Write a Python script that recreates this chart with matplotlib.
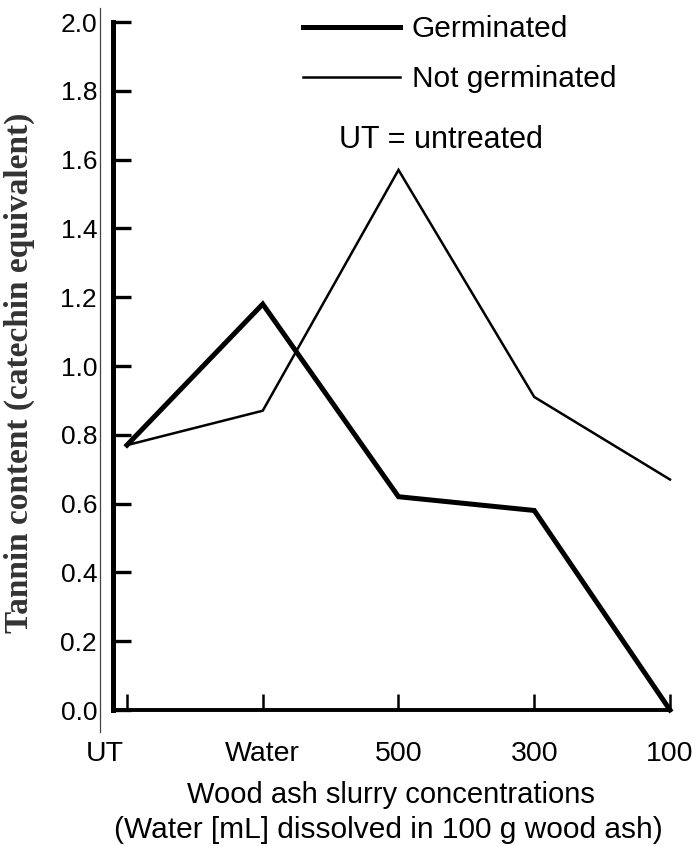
import matplotlib
matplotlib.use('Agg')
import matplotlib.pyplot as plt
from matplotlib.lines import Line2D
from matplotlib.transforms import ScaledTranslation

plt.rcParams['font.family'] = ['Liberation Sans', 'DejaVu Sans']

# ── data ──
categories = ['UT', 'Water', '500', '300', '100']
germinated = [0.77, 1.18, 0.62, 0.58, 0.0]
not_germinated = [0.77, 0.87, 1.57, 0.91, 0.67]
yticks = [0.0, 0.2, 0.4, 0.6, 0.8, 1.0, 1.2, 1.4, 1.6, 1.8, 2.0]

W, H = 693, 846
fig = plt.figure(figsize=(W / 100, H / 100), dpi=100, facecolor='white')
ax = fig.add_axes([113 / W, 1 - 710 / H, (670 - 113) / W, (710 - 22) / H])

x = list(range(len(categories)))
ax.plot(x, germinated, color='black', lw=3.6, solid_joinstyle='miter',
        label='Germinated', clip_on=False, zorder=3)
ax.plot(x, not_germinated, color='black', lw=1.8, solid_joinstyle='miter',
        label='Not germinated', clip_on=False, zorder=3)

ax.set_xlim(-0.103, 4.0)
ax.set_ylim(0, 2.0)
ax.set_xticks(x)
ax.set_xticklabels(categories)
ax.set_yticks(yticks)
ax.set_yticklabels([f'{v:.1f}' for v in yticks])

for s in ('top', 'right'):
    ax.spines[s].set_visible(False)
ax.spines['left'].set_linewidth(3.6)
ax.spines['bottom'].set_linewidth(2.8)

ax.tick_params(axis='y', direction='in', length=13, width=2.4,
               pad=11.5, labelsize=19)
ax.tick_params(axis='x', direction='in', length=11.5, width=1.8,
               pad=22.5, labelsize=20.5)

# UT label sits left of its tick
off = ScaledTranslation(-22 / 100, 0, fig.dpi_scale_trans)
lbl = ax.get_xticklabels()[0]
lbl.set_transform(lbl.get_transform() + off)

# thin frame line left of the axis
fig.add_artist(Line2D([100 / W, 100 / W], [1 - 8 / H, 1 - 732 / H],
                      transform=fig.transFigure, color='#444', lw=0.9))

# axis titles
fig.text(19 / W, 1 - 373 / H, 'Tannin content (catechin equivalent)',
         rotation=90, ha='center', va='center', fontsize=24,
         fontweight='bold', family=['Liberation Serif', 'DejaVu Serif'],
         color='#333')
fig.text(391 / W, 1 - 795 / H, 'Wood ash slurry concentrations',
         ha='center', va='center', fontsize=21)
fig.text(388 / W, 1 - 830 / H, '(Water [mL] dissolved in 100 g wood ash)',
         ha='center', va='center', fontsize=21.5)

# legend and note
fig.legend(loc='upper left', bbox_to_anchor=(303 / W, 1 - 15 / H),
           frameon=False, fontsize=21.5, handlelength=3.25, handletextpad=0.4,
           borderpad=0, borderaxespad=0, labelspacing=0.75)
fig.text(339 / W, 1 - 140 / H, 'UT = untreated', ha='left', va='center',
         fontsize=22)

fig.savefig('out.png', dpi=100, facecolor='white')
